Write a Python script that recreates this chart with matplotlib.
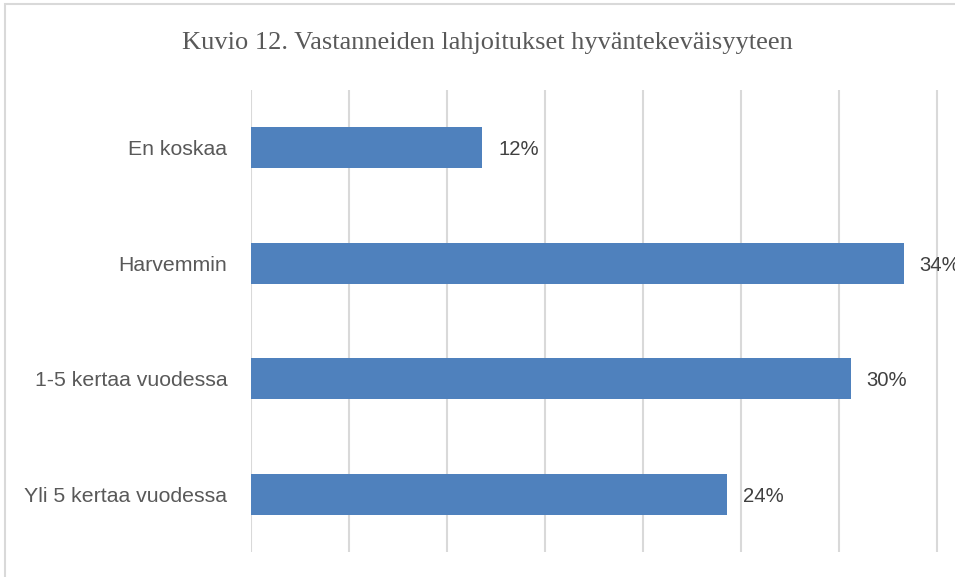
import matplotlib.pyplot as plt
from matplotlib.patches import Rectangle

# Data
categories = ["En koskaa", "Harvemmin", "1-5 kertaa vuodessa", "Yli 5 kertaa vuodessa"]
values = [11.8, 33.3, 30.6, 24.3]
value_labels = ["12%", "34%", "30%", "24%"]
grid_ticks = [0, 5, 10, 15, 20, 25, 30, 35]

TITLE = "Kuvio 12. Vastanneiden lahjoitukset hyväntekeväisyyteen"
W, H = 955, 577

fig = plt.figure(figsize=(W / 100, H / 100), dpi=100)

# Outer chart frame (cropped at right and bottom)
fig.patches.append(Rectangle((5 / W, -0.1), 1.2, (H - 4) / H + 0.1, transform=fig.transFigure,
                             fill=False, edgecolor="#d9d9d9", linewidth=1.5))

ax = fig.add_axes([251 / W, 25 / H, 704 / W, 462 / H])
ax.barh(range(len(values)), values, height=0.355, color="#4f81bd", zorder=3)
ax.set_xlim(0, 704 / 19.6)
ax.set_ylim(len(values) - 0.5, -0.5)

ax.set_xticks(grid_ticks)
ax.xaxis.grid(True, color="#d9d9d9", linewidth=1.5, zorder=0)
ax.tick_params(axis="x", length=0, labelbottom=False)
ax.set_yticks(range(len(categories)))
ax.set_yticklabels(categories, fontsize=15.3, color="#595959", family="Liberation Sans")
ax.tick_params(axis="y", length=0, pad=17)
for s in ax.spines.values():
    s.set_visible(False)

for i, (v, lab) in enumerate(zip(values, value_labels)):
    ax.annotate(lab, (v, i), xytext=(11.5, 0), textcoords="offset points",
                va="center_baseline", ha="left", fontsize=14.6, color="#404040",
                family="Liberation Sans", annotation_clip=False)

fig.text(487 / W, 1 - 49.5 / H, TITLE, ha="center", va="baseline", fontsize=19,
         color="#595959", family="Liberation Serif")

fig.savefig("out.png", dpi=100)
